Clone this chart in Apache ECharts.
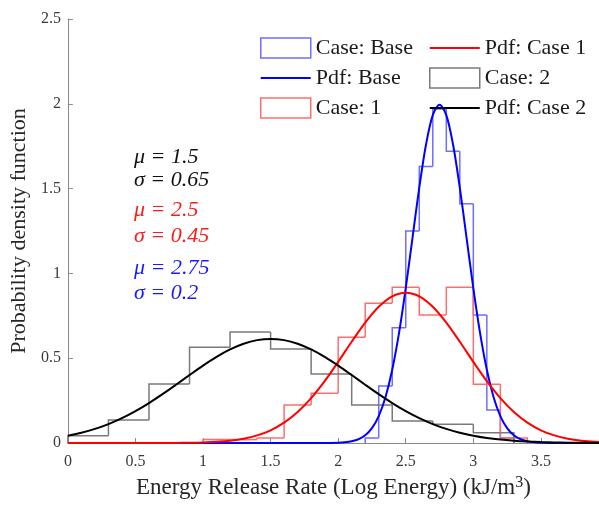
<!DOCTYPE html>
<html><head><meta charset="utf-8">
<script src="https://cdn.jsdelivr.net/npm/echarts@6/dist/echarts.min.js"></script>
<style>html,body{margin:0;padding:0;background:#fff}#c{width:599px;height:505px}</style>
</head><body><div id="c"></div>
<script>
// ---- Histogram data (bin edges and density heights) ----
const baseEdges  = [2.2, 2.3, 2.4, 2.5, 2.6, 2.7, 2.8, 2.9, 3.0, 3.1, 3.2, 3.3];
const baseHist   = [0.03, 0.336, 0.68, 1.25, 1.63, 1.97, 1.72, 1.41, 0.755, 0.195, 0.03];
const case1Edges = [1.0, 1.2, 1.4, 1.6, 1.8, 2.0, 2.2, 2.4, 2.6, 2.8, 3.0, 3.2, 3.4];
const case1Hist  = [0.02, 0.02, 0.03, 0.224, 0.293, 0.623, 0.824, 0.918, 0.755, 0.918, 0.346, 0.03];
const case2Edges = [0, 0.3, 0.6, 0.9, 1.2, 1.5, 1.8, 2.1, 2.4, 2.7, 3.0, 3.3];
const case2Hist  = [0.043, 0.136, 0.348, 0.564, 0.654, 0.554, 0.407, 0.224, 0.13, 0.11, 0.06];

// ---- PDF curves (read values) ----
const pdfX = [0,0.1,0.2,0.3,0.4,0.5,0.6,0.7,0.8,0.9,1.0,1.1,1.2,1.3,1.4,1.5,1.6,1.7,1.8,1.9,2.0,
              2.1,2.2,2.3,2.4,2.5,2.6,2.7,2.8,2.9,3.0,3.1,3.2,3.3,3.4,3.5,3.6,3.7,3.8,3.9,4.0];
const case2Pdf = [0.0428,0.0604,0.0831,0.1117,0.1466,0.1879,0.2353,0.2878,0.3437,0.4009,0.4566,
                  0.5079,0.5518,0.5854,0.6066,0.6138,0.6066,0.5854,0.5518,0.5079,0.4566,0.4009,
                  0.3437,0.2878,0.2353,0.1879,0.1466,0.1117,0.0831,0.0604,0.0428,0.0297,0.0201,
                  0.0133,0.0086,0.0054,0.0033,0.0020,0.0012,0.0007,0.0004];
const case1Pdf = [0,0,0,0,0,0,0.0001,0.0003,0.0007,0.0016,0.0034,0.0070,0.0137,0.0253,0.0447,
                  0.0750,0.1200,0.1825,0.2644,0.3645,0.4782,0.5972,0.7098,0.8032,0.8649,0.8865,
                  0.8649,0.8032,0.7098,0.5972,0.4782,0.3645,0.2644,0.1825,0.1200,0.0750,0.0447,
                  0.0253,0.0137,0.0070,0.0034];
const baseX = [0,1.0,1.5,1.9,2.0,2.05,2.1,2.15,2.2,2.25,2.3,2.35,2.4,2.45,2.5,2.55,2.6,2.65,2.7,2.75,
               2.8,2.85,2.9,2.95,3.0,3.05,3.1,3.15,3.2,3.25,3.3,3.35,3.4,3.45,3.5,3.6,4.0];
const basePdf = [0,0,0,0.0002,0.0018,0.0044,0.0101,0.0222,0.0455,0.0876,0.1587,0.2700,0.4315,0.6476,
                 0.9132,1.2098,1.5056,1.7603,1.9333,1.9947,1.9333,1.7603,1.5056,1.2098,0.9132,0.6476,
                 0.4315,0.2700,0.1587,0.0876,0.0455,0.0222,0.0101,0.0044,0.0018,0.0002,0];

const annotations = ['μ = 1.5', 'σ = 0.65', 'μ = 2.5', 'σ = 0.45', 'μ = 2.75', 'σ = 0.2'];

const F = '"Liberation Serif", "Times New Roman", serif';
const C_BASE_H = '#6e6eff', C_C1_H = '#ff6e6e', C_C2_H = '#7a7a7a';
const LINE_ICON = 'path://M0 0H50V2H0Z';

function histSeries(name, edges, heights, color) {
  return {
    type: 'custom', name: name,
    data: heights.map((h, i) => [edges[i], edges[i + 1], h]),
    encode: { x: [0, 1], y: 2 },
    clip: true,
    itemStyle: { color: color },
    renderItem: function (params, api) {
      const i = params.dataIndex;
      const prev = i > 0 ? heights[i - 1] : 0;
      const pts = [api.coord([edges[i], prev]), api.coord([edges[i], heights[i]]), api.coord([edges[i + 1], heights[i]])];
      if (i === heights.length - 1) pts.push(api.coord([edges[i + 1], 0]));
      return { type: 'polyline', shape: { points: pts }, style: { stroke: color, lineWidth: 1.5, fill: null } };
    }
  };
}
function pdfSeries(name, xs, ys, color) {
  return {
    type: 'line', name: name, data: xs.map((x, i) => [x, ys[i]]),
    smooth: 0.3, symbol: 'none', clip: true,
    lineStyle: { color: color, width: 2 }, itemStyle: { color: color }
  };
}

const chart = echarts.init(document.getElementById('c'), null, { renderer: 'canvas' });
const legendCommon = {
  orient: 'vertical', top: 37, padding: 0, itemWidth: 50, itemHeight: 20, itemGap: 8,
  selectedMode: false, textStyle: { fontFamily: F, fontSize: 22, color: '#1a1a1a', lineHeight: 20 }
};
const annColors = ['#111', '#111', '#ff1a1a', '#ff1a1a', '#1a1aff', '#1a1aff'];
const annTops = [146, 169, 199, 225, 257, 282];

chart.setOption({
  animation: false,
  grid: { left: 66, right: 0, top: 19, bottom: 62, containLabel: false },
  xAxis: {
    type: 'value', min: 0, max: 3.93, interval: 0.5,
    axisLine: { show: true, lineStyle: { color: '#8a8a8a', width: 1 } },
    axisTick: { show: true, inside: true, length: 5, lineStyle: { color: '#8a8a8a' } },
    axisLabel: { color: '#3a3a3a', fontFamily: F, fontSize: 16, margin: 11, showMaxLabel: false },
    splitLine: { show: false },
    name: '{a|Energy Release Rate (Log Energy) (kJ/m}{s|3}{a|)}',
    nameLocation: 'middle', nameGap: 31,
    nameTextStyle: {
      rich: {
        a: { fontFamily: F, fontSize: 23, color: '#262626', lineHeight: 26 },
        s: { fontFamily: F, fontSize: 16, color: '#262626', lineHeight: 14, verticalAlign: 'top' }
      }
    }
  },
  yAxis: {
    type: 'value', min: 0, max: 2.5, interval: 0.5,
    axisLine: { show: true, lineStyle: { color: '#8a8a8a', width: 1 } },
    axisTick: { show: true, inside: true, length: 5, lineStyle: { color: '#8a8a8a' } },
    axisLabel: { color: '#3a3a3a', fontFamily: F, fontSize: 16, margin: 7 },
    splitLine: { show: false },
    name: 'Probability density function', nameLocation: 'middle', nameGap: 34,
    nameTextStyle: { fontFamily: F, fontSize: 22, color: '#262626' }
  },
  legend: [
    Object.assign({}, legendCommon, { left: 260, data: [
      { name: 'Case: Base', icon: 'rect', itemStyle: { color: 'rgba(0,0,0,0)', borderColor: C_BASE_H, borderWidth: 1.5 } },
      { name: 'Pdf: Base', icon: LINE_ICON, itemStyle: { color: '#0000ff', borderWidth: 0 } },
      { name: 'Case: 1', icon: 'rect', itemStyle: { color: 'rgba(0,0,0,0)', borderColor: C_C1_H, borderWidth: 1.5 } }
    ] }),
    Object.assign({}, legendCommon, { left: 429, data: [
      { name: 'Pdf: Case 1', icon: LINE_ICON, itemStyle: { color: '#ff0000', borderWidth: 0 } },
      { name: 'Case: 2', icon: 'rect', itemStyle: { color: 'rgba(0,0,0,0)', borderColor: C_C2_H, borderWidth: 1.5 } },
      { name: 'Pdf: Case 2', icon: LINE_ICON, itemStyle: { color: '#000000', borderWidth: 0 } }
    ] })
  ],
  graphic: annotations.map((t, i) => ({
    type: 'text', left: 134, top: annTops[i], silent: true,
    style: { text: t, font: 'italic 22px ' + F, fill: annColors[i] }
  })),
  series: [
    histSeries('Case: Base', baseEdges, baseHist, C_BASE_H),
    pdfSeries('Pdf: Base', baseX, basePdf, '#0000ff'),
    histSeries('Case: 1', case1Edges, case1Hist, C_C1_H),
    pdfSeries('Pdf: Case 1', pdfX, case1Pdf, '#ff0000'),
    histSeries('Case: 2', case2Edges, case2Hist, C_C2_H),
    pdfSeries('Pdf: Case 2', pdfX, case2Pdf, '#000000')
  ]
});
</script></body></html>
